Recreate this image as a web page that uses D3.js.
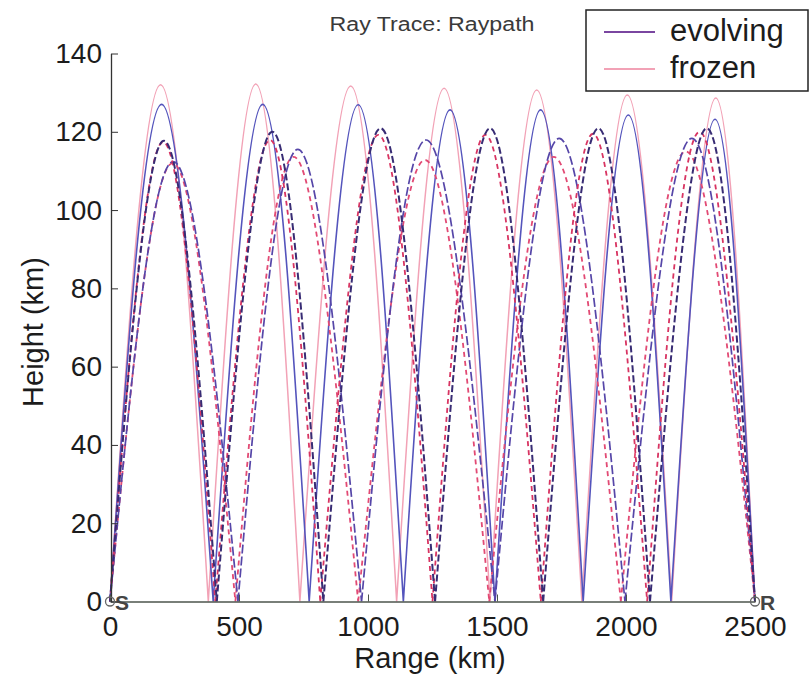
<!DOCTYPE html>
<html><head><meta charset="utf-8">
<script src="https://cdn.jsdelivr.net/npm/d3@7"></script>
<style>
body{margin:0;background:#fff}
svg{display:block}
text{font-family:"Liberation Sans",Arial,Helvetica,sans-serif}
</style>
</head><body>
<svg id="chart" width="811" height="675"></svg>
<script>
// ---------------- data ----------------
const title = "Ray Trace: Raypath";
const xLabel = "Range (km)";
const yLabel = "Height (km)";
const xTicks = [0, 500, 1000, 1500, 2000, 2500];
const yTicks = [0, 20, 40, 60, 80, 100, 120, 140];
const seriesNames = ["evolving", "frozen"];

// ray 1 (7 hops, highest apex)
const evoGround1 = [0, 400, 772, 1137, 1492, 1834, 2174, 2500];
const evoPeakRange1 = [200, 592, 962, 1318, 1669, 2009, 2345];
const evoPeakHeight1 = [127.0, 127.0, 126.9, 125.6, 125.6, 124.3, 123.2];
const froGround1 = [0, 381, 736, 1111, 1473, 1829, 2177, 2500];
const froPeakRange1 = [196, 565, 933, 1295, 1654, 2005, 2348];
const froPeakHeight1 = [132.0, 132.2, 131.7, 131.1, 130.7, 129.4, 128.6];

// ray 2 (6 hops)
const evoGround2 = [0, 414, 827, 1260, 1679, 2093, 2500];
const evoPeakRange2 = [209, 629, 1049, 1473, 1893, 2313];
const evoPeakHeight2 = [117.7, 120.0, 120.9, 120.9, 120.9, 120.9];
const froGround2 = [0, 408, 815, 1250, 1670, 2082, 2500];
const froPeakRange2 = [206, 620, 1040, 1455, 1872, 2285];
const froPeakHeight2 = [117.4, 117.9, 119.2, 119.2, 119.5, 120.0];

// ray 3 (5 hops)
const evoGround3 = [0, 496, 975, 1492, 1996, 2500];
const evoPeakRange3 = [245, 728, 1225, 1741, 2255];
const evoPeakHeight3 = [112.4, 115.5, 117.9, 118.3, 118.3];
const froGround3 = [0, 486, 962, 1470, 1980, 2500];
const froPeakRange3 = [243, 712, 1221, 1720, 2232];
const froPeakHeight3 = [112.0, 113.6, 112.8, 113.6, 115.0];

const sourceRange = 0, receiverRange = 2500;

// ---------------- drawing ----------------
const svg = d3.select("#chart");
const x = d3.scaleLinear().domain([0, 2500]).range([110, 755]);
const y = d3.scaleLinear().domain([0, 140]).range([601.5, 53.5]);

const hopLine = d3.line().x(d => x(d[0])).y(d => y(d[1])).curve(d3.curveNatural);
function rayPath(ground, pr, ph) {
  return d3.range(pr.length).map(i =>
    hopLine([[ground[i], 0], [pr[i], ph[i]], [ground[i + 1], 0]])).join("");
}

const rays = [
  {g: froGround1, r: froPeakRange1, h: froPeakHeight1, color: "#f2a2b6", w: 1.5, dash: null},
  {g: evoGround1, r: evoPeakRange1, h: evoPeakHeight1, color: "#5454bc", w: 1.6, dash: null},
  {g: froGround3, r: froPeakRange3, h: froPeakHeight3, color: "#e24a74", w: 1.8, dash: "5,4"},
  {g: evoGround3, r: evoPeakRange3, h: evoPeakHeight3, color: "#5646a8", w: 1.7, dash: "9,3"},
  {g: froGround2, r: froPeakRange2, h: froPeakHeight2, color: "#d83462", w: 1.8, dash: "5,4"},
  {g: evoGround2, r: evoPeakRange2, h: evoPeakHeight2, color: "#382c74", w: 2.0, dash: "7,3"}
];

svg.append("g").selectAll("path").data(rays).join("path")
  .attr("d", d => rayPath(d.g, d.r, d.h))
  .attr("fill", "none")
  .attr("stroke", d => d.color)
  .attr("stroke-width", d => d.w)
  .attr("stroke-dasharray", d => d.dash)
  .attr("stroke-linejoin", "round");

// axes
const xAxis = d3.axisBottom(x).tickValues(xTicks).tickFormat(d3.format("d"))
  .tickSizeInner(-7).tickSizeOuter(0).tickPadding(15);
const gx = svg.append("g").attr("transform", `translate(0,${y(0)})`).call(xAxis);
gx.select(".domain").attr("stroke", "#4c554c").attr("stroke-width", 1.6);
gx.selectAll(".tick line").attr("stroke", "#4c554c");
gx.selectAll("text").attr("font-size", 28).attr("fill", "#1c1c1c")
  .style("font-family", '"Liberation Sans",Arial,sans-serif');

const yAxis = d3.axisLeft(y).tickValues(yTicks).tickFormat(d3.format("d"))
  .tickSizeInner(-7).tickSizeOuter(0).tickPadding(9);
const gy = svg.append("g").attr("transform", `translate(111,0)`).call(yAxis);
gy.select(".domain").attr("stroke", "#333").attr("stroke-width", 1.3);
gy.selectAll(".tick line").attr("stroke", "#333");
gy.selectAll("text").attr("font-size", 28).attr("fill", "#1c1c1c")
  .style("font-family", '"Liberation Sans",Arial,sans-serif');

// source / receiver markers
const markers = [{r: sourceRange, label: "S"}, {r: receiverRange, label: "R"}];
svg.append("g").selectAll("circle").data(markers).join("circle")
  .attr("cx", d => x(d.r)).attr("cy", y(0)).attr("r", 4.5)
  .attr("fill", "none").attr("stroke", "#666").attr("stroke-width", 1.3);
svg.append("g").selectAll("text").data(markers).join("text")
  .attr("x", d => x(d.r) + 5).attr("y", y(0) + 8)
  .attr("font-size", 21).attr("font-weight", "bold").attr("fill", "#444").text(d => d.label);

// title & axis labels
svg.append("text").attr("x", 432).attr("y", 31).attr("text-anchor", "middle")
  .attr("font-size", 20).attr("fill", "#3a3a3a")
  .attr("textLength", 205).attr("lengthAdjust", "spacingAndGlyphs").text(title);
svg.append("text").attr("x", 430).attr("y", 668).attr("text-anchor", "middle")
  .attr("font-size", 29).attr("fill", "#1c1c1c").text(xLabel);
svg.append("text").attr("transform", "translate(43,332) rotate(-90)")
  .attr("text-anchor", "middle").attr("font-size", 29).attr("fill", "#1c1c1c").text(yLabel);

// legend
const lg = svg.append("g");
lg.append("rect").attr("x", 586).attr("y", 10).attr("width", 222).attr("height", 81)
  .attr("fill", "#fff").attr("stroke", "#222").attr("stroke-width", 1.5);
const legendColors = ["#7a46a0", "#f2a2b6"];
const legendY = [32, 69];
seriesNames.forEach((name, i) => {
  lg.append("line").attr("x1", 604).attr("x2", 655).attr("y1", legendY[i]).attr("y2", legendY[i])
    .attr("stroke", legendColors[i]).attr("stroke-width", 1.8);
  lg.append("text").attr("x", 670).attr("y", legendY[i] + 9)
    .attr("font-size", 31).attr("fill", "#1c1c1c").text(name);
});
</script>
</body></html>
